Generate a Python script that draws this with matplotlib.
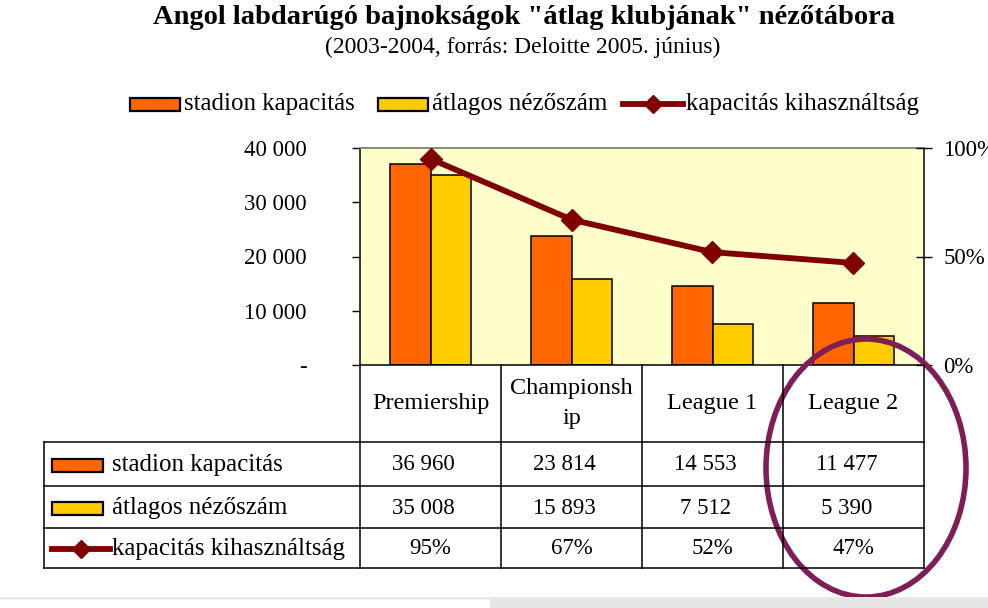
import matplotlib
matplotlib.use("Agg")
import matplotlib.pyplot as plt
from matplotlib.patches import Rectangle, Ellipse
from matplotlib.lines import Line2D

# ---- data ----
categories = ["Premiership", "Championsh\nip", "League 1", "League 2"]
capacity = [36960, 23814, 14553, 11477]
attendance = [35008, 15893, 7512, 5390]
utilization = [95, 67, 52, 47]
series_names = ["stadion kapacitás", "átlagos nézőszám", "kapacitás kihasználtság"]
left_ticks = [0, 10000, 20000, 30000, 40000]
left_tick_labels = ["-", "10 000", "20 000", "30 000", "40 000"]
right_ticks = [0, 50, 100]
right_tick_labels = ["0%", "50%", "100%"]
title = 'Angol labdarúgó bajnokságok "átlag klubjának" nézőtábora'
subtitle = "(2003-2004, forrás: Deloitte 2005. június)"

ORANGE = "#FF6600"
YELLOW = "#FFCC00"
MAROON = "#800000"
BG = "#FFFFCC"
PURPLE = "#7F1D57"
SERIF = ["Liberation Serif", "DejaVu Serif"]
FS_TICK = 16.5
FS_NUM = 16.5
FS_LAB = 18
FS_HEAD = 17.5

plt.rcParams["font.family"] = SERIF

W, H = 988, 608
fig = plt.figure(figsize=(W / 100, H / 100), dpi=100)

# plot area in pixels
PX0, PX1, PY0, PY1 = 360, 924, 148, 365
ax = fig.add_axes([PX0 / W, 1 - PY1 / H, (PX1 - PX0) / W, (PY1 - PY0) / H])
ax.set_facecolor(BG)
n = len(categories)
xs = list(range(n))
bw = 0.29
ax.bar([x - bw / 2 for x in xs], capacity, bw, color=ORANGE, edgecolor="black", linewidth=1.1, zorder=2)
ax.bar([x + bw / 2 for x in xs], attendance, bw, color=YELLOW, edgecolor="black", linewidth=1.1, zorder=2)
ax.set_xlim(-0.5, n - 0.5)
ax.set_ylim(0, 40000)
ax.set_xticks([])
ax.set_yticks(left_ticks)
ax.set_yticklabels(left_tick_labels, fontsize=FS_TICK)
ax.tick_params(axis="y", direction="out", length=5.5, width=1, pad=33)
for s in ["left", "bottom", "right"]:
    ax.spines[s].set_color("black")
    ax.spines[s].set_linewidth(1.1)
ax.spines["top"].set_color("#808070")
ax.spines["top"].set_linewidth(1.3)

ax2 = ax.twinx()
ax2.plot(xs, utilization, color=MAROON, linewidth=4.2, marker="D", markersize=11,
         markerfacecolor=MAROON, markeredgecolor=MAROON, zorder=3)
ax2.set_ylim(0, 100)
ax2.set_yticks(right_ticks)
ax2.set_yticklabels(right_tick_labels, fontsize=FS_TICK)
ax2.tick_params(axis="y", direction="inout", length=11.5, width=1, pad=8)
for s in ["left", "bottom", "right", "top"]:
    ax2.spines[s].set_visible(False)

# overlay in pixel coordinates
ov = fig.add_axes([0, 0, 1, 1], zorder=5)
ov.set_xlim(0, W)
ov.set_ylim(H, 0)
ov.axis("off")
ov.patch.set_alpha(0)

# title
ov.text(524, 18, title, ha="center", va="center", fontsize=20.5, fontweight="bold")
ov.text(523, 47, subtitle, ha="center", va="center", fontsize=17)

def icon(kind, x, y, w=50, h=13):
    if kind == 0 or kind == 1:
        ov.add_patch(Rectangle((x, y - h / 2), w, h, facecolor=[ORANGE, YELLOW][kind],
                               edgecolor="black", linewidth=1.6))
    else:
        ov.add_line(Line2D([x, x + w + 6], [y, y], color=MAROON, linewidth=4.2))
        ov.plot([x + (w + 6) / 2], [y], marker="D", markersize=9, color=MAROON)

# top legend
leg_icon_x = [130, 378, 623]
leg_text_x = [184, 432, 686]
for i, name in enumerate(series_names):
    icon(i, leg_icon_x[i], 104, w=50 if i < 2 else 54)
    ov.text(leg_text_x[i], 104, name, ha="left", va="center", fontsize=FS_LAB)

# data table
TL = 44
col_edges = [PX0 + i * (PX1 - PX0) / n for i in range(n + 1)]
row_edges = [PY1, 442, 486, 528, 568]
lw = 1.1
for xe in col_edges:
    ov.add_line(Line2D([xe, xe], [PY1, row_edges[-1]], color="black", linewidth=lw))
ov.add_line(Line2D([TL, TL], [row_edges[1], row_edges[-1]], color="black", linewidth=lw))
for ye in row_edges[1:]:
    ov.add_line(Line2D([TL, PX1], [ye, ye], color="black", linewidth=lw))

for i, cat in enumerate(categories):
    cx = (col_edges[i] + col_edges[i + 1]) / 2
    ov.text(cx, (row_edges[0] + row_edges[1]) / 2, cat, ha="center", va="center",
            fontsize=FS_HEAD, linespacing=1.55)

def fmt(v):
    return f"{v:,}".replace(",", " ")

rows = [[fmt(v) for v in capacity], [fmt(v) for v in attendance], [f"{v}%" for v in utilization]]
for r, vals in enumerate(rows):
    cy = (row_edges[r + 1] + row_edges[r + 2]) / 2 + 1
    icon(r, 52, cy, w=51 if r < 2 else 52)
    ov.text(112, cy, series_names[r], ha="left", va="center", fontsize=FS_LAB)
    for i, t in enumerate(vals):
        cx = (col_edges[i] + col_edges[i + 1]) / 2 + (-7 if r < 2 else 0)
        ov.text(cx, cy, t, ha="center", va="center", fontsize=FS_NUM)

# highlight ellipse
ov.add_patch(Ellipse((866, 468), 200, 258, fill=False, edgecolor=PURPLE, linewidth=4))

# bottom gray band
ov.add_line(Line2D([0, 490], [597.5, 597.5], color="#DDDDDD", linewidth=1))
ov.add_patch(Rectangle((490, 597), 498, 11, facecolor="#E6E6E6", edgecolor="none"))

fig.savefig("out.png", dpi=100)
